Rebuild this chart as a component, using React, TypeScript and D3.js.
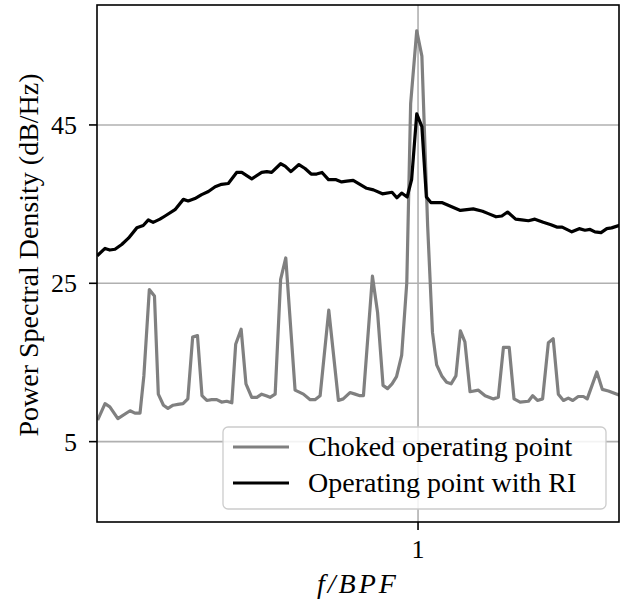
import * as d3 from 'd3';

const WIDTH = 626;
const HEIGHT = 603;
const MARGIN = { top: 5, right: 7, bottom: 81, left: 97 };
const FONT = "'Liberation Serif', 'Times New Roman', serif";

// f/BPF and PSD (dB/Hz), choked operating point
const CHOKED_F = [
  0.004, 0.025, 0.04, 0.065, 0.103, 0.118, 0.134, 0.146, 0.163, 0.179, 0.191, 0.207, 0.221, 0.237,
  0.252, 0.268, 0.283, 0.298, 0.313, 0.327, 0.342, 0.357, 0.373, 0.388, 0.404, 0.42, 0.432, 0.449,
  0.464, 0.482, 0.498, 0.513, 0.527, 0.539, 0.555, 0.572, 0.588, 0.617, 0.643, 0.664, 0.679, 0.695,
  0.722, 0.752, 0.767, 0.788, 0.804, 0.819, 0.83, 0.858, 0.874, 0.891, 0.905, 0.919, 0.933, 0.949,
  0.965, 0.977, 0.996, 1.012, 1.03, 1.045, 1.058, 1.074, 1.089, 1.103, 1.118, 1.132, 1.146, 1.162,
  1.188, 1.209, 1.235, 1.25, 1.266, 1.284, 1.299, 1.318, 1.344, 1.357, 1.372, 1.388, 1.406, 1.421,
  1.437, 1.453, 1.468, 1.482, 1.499, 1.515, 1.527, 1.557, 1.574, 1.593, 1.626,
];
const CHOKED_PSD = [
  7.9, 9.8, 9.4, 7.9, 8.9, 8.6, 8.6, 13.3, 24.2, 23.4, 11.0, 9.6, 9.2, 9.6,
  9.7, 9.8, 10.4, 18.2, 18.4, 10.8, 10.2, 10.3, 10.3, 10.0, 10.1, 9.9, 17.3, 19.2,
  12.3, 10.6, 10.6, 11.0, 10.8, 10.6, 11.0, 25.5, 28.2, 11.5, 11.0, 10.3, 10.3, 10.8,
  21.6, 10.2, 10.4, 11.2, 11.0, 10.8, 10.8, 25.9, 21.3, 12.1, 11.7, 12.3, 13.2, 15.9,
  25.1, 47.7, 56.9, 53.7, 32.2, 18.8, 14.7, 13.3, 12.5, 12.3, 13.3, 19.0, 17.6, 11.3,
  11.5, 10.8, 10.4, 10.6, 16.9, 16.9, 10.4, 10.0, 10.1, 10.8, 10.2, 10.4, 17.5, 18.0,
  11.0, 10.2, 10.5, 10.2, 10.7, 10.7, 10.4, 13.8, 11.6, 11.4, 10.9,
];

// operating point with RI
const RI_F = [
  0.004, 0.025, 0.04, 0.056, 0.077, 0.098, 0.124, 0.144, 0.16, 0.175, 0.196, 0.212, 0.243, 0.269,
  0.284, 0.305, 0.326, 0.347, 0.368, 0.388, 0.409, 0.435, 0.451, 0.482, 0.513, 0.529, 0.544, 0.572,
  0.586, 0.604, 0.629, 0.648, 0.667, 0.684, 0.701, 0.721, 0.743, 0.762, 0.778, 0.798, 0.819, 0.84,
  0.861, 0.889, 0.919, 0.934, 0.949, 0.966, 0.98, 0.996, 1.012, 1.026, 1.04, 1.074, 1.103, 1.132,
  1.172, 1.201, 1.219, 1.243, 1.261, 1.279, 1.304, 1.323, 1.344, 1.364, 1.39, 1.414, 1.432, 1.449,
  1.479, 1.502, 1.52, 1.536, 1.551, 1.57, 1.588, 1.603, 1.626,
];
const RI_PSD = [
  28.6, 29.4, 29.2, 29.3, 29.9, 30.7, 32.0, 32.3, 33.0, 32.7, 33.1, 33.5, 34.3, 35.6,
  35.4, 35.7, 36.2, 36.6, 37.2, 37.5, 37.6, 39.0, 39.0, 38.2, 39.0, 39.1, 39.0, 40.1,
  39.8, 39.1, 40.0, 39.5, 38.8, 38.8, 39.0, 38.1, 38.1, 37.8, 37.9, 38.0, 37.5, 37.0,
  36.8, 36.3, 36.5, 35.8, 36.4, 35.9, 38.1, 46.4, 44.8, 35.9, 35.2, 35.2, 34.7, 34.2,
  34.4, 34.1, 33.8, 33.4, 33.5, 34.0, 33.1, 33.0, 32.9, 33.1, 32.7, 32.4, 32.1, 32.1,
  31.5, 31.9, 31.7, 31.8, 31.5, 31.4, 31.9, 32.0, 32.3,
];

const Y_TICKS = [5, 25, 45];
const X_TICKS = [1];
const SERIES = [
  { label: 'Choked operating point', f: CHOKED_F, v: CHOKED_PSD, color: '#808080' },
  { label: 'Operating point with RI', f: RI_F, v: RI_PSD, color: '#000000' },
];

export default function App() {
  const innerWidth = WIDTH - MARGIN.left - MARGIN.right;
  const innerHeight = HEIGHT - MARGIN.top - MARGIN.bottom;

  const x = d3.scaleLinear().domain([0, 1.626]).range([0, innerWidth]);
  const y = d3.scaleLinear().domain([-5.15, 60.15]).range([innerHeight, 0]);

  const line = d3
    .line<[number, number]>()
    .x((d) => x(d[0]))
    .y((d) => y(d[1]));

  const legendX = 126;
  const legendY = 422;

  return (
    <svg
      width={WIDTH}
      height={HEIGHT}
      style={{ position: 'absolute', left: 0, top: 0, background: '#fff' }}
      fontFamily={FONT}
    >
      <g transform={`translate(${MARGIN.left},${MARGIN.top})`}>
        <defs>
          <clipPath id="plot-clip">
            <rect x={0} y={0} width={innerWidth} height={innerHeight} />
          </clipPath>
        </defs>

        {Y_TICKS.map((t) => (
          <line key={`gy${t}`} x1={0} x2={innerWidth} y1={y(t)} y2={y(t)} stroke="#b0b0b0" strokeWidth={1.6} />
        ))}
        {X_TICKS.map((t) => (
          <line key={`gx${t}`} x1={x(t)} x2={x(t)} y1={0} y2={innerHeight} stroke="#b0b0b0" strokeWidth={1.6} />
        ))}

        <g clipPath="url(#plot-clip)">
          {SERIES.map((s) => (
            <path
              key={s.label}
              d={line(s.f.map((f, i) => [f, s.v[i]] as [number, number])) ?? ''}
              fill="none"
              stroke={s.color}
              strokeWidth={3.2}
              strokeLinejoin="round"
              strokeLinecap="square"
            />
          ))}
        </g>

        <rect x={0} y={0} width={innerWidth} height={innerHeight} fill="none" stroke="#000" strokeWidth={1.6} />

        {Y_TICKS.map((t) => (
          <g key={`ty${t}`} transform={`translate(0,${y(t)})`}>
            <line x1={-8} x2={0} stroke="#000" strokeWidth={1.6} />
            <text x={-20} dy={9} textAnchor="end" fontSize={26} fill="#000">
              {t}
            </text>
          </g>
        ))}
        {X_TICKS.map((t) => (
          <g key={`tx${t}`} transform={`translate(${x(t)},${innerHeight})`}>
            <line y1={0} y2={8} stroke="#000" strokeWidth={1.6} />
            <text y={36} textAnchor="middle" fontSize={26} fill="#000">
              {t}
            </text>
          </g>
        ))}

        {/* legend */}
        <g transform={`translate(${legendX},${legendY})`}>
          <rect x={0} y={0} width={383} height={82} rx={5} fill="#fff" fillOpacity={0.85} stroke="#cccccc" strokeWidth={1.3} />
          {SERIES.map((s, i) => (
            <g key={s.label} transform={`translate(0,${20 + i * 36})`}>
              <line x1={10} x2={66} stroke={s.color} strokeWidth={3.2} />
              <text x={85} dy={9} fontSize={28} fill="#000">
                {s.label}
              </text>
            </g>
          ))}
        </g>

        <text x={innerWidth / 2} y={innerHeight + 71} textAnchor="middle" fontSize={28} fontStyle="italic" letterSpacing={3} fill="#000">
          f/BPF
        </text>
      </g>

      <text transform={`translate(38,255) rotate(-90)`} textAnchor="middle" fontSize={28} fill="#000">
        Power Spectral Density (dB/Hz)
      </text>
    </svg>
  );
}
